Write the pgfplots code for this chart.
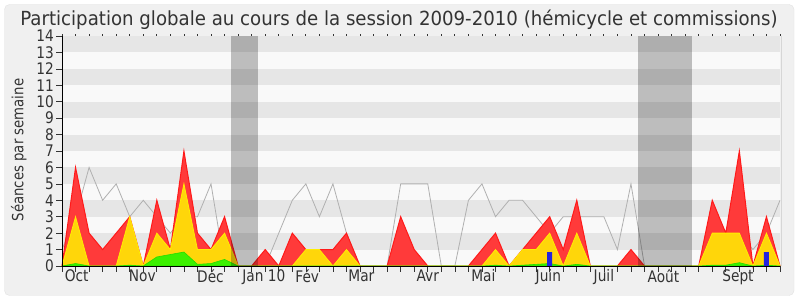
\documentclass[border=0pt]{standalone}
\usepackage{fontspec}
\setmainfont{DejaVu Sans}[FakeStretch=0.86]
\newfontfamily\titlefont{DejaVu Sans}[FakeStretch=0.935]
\usepackage{pgfplots}
\usepackage{pgfplotstable}
\pgfplotsset{compat=1.18}
\definecolor{bg}{HTML}{F0F0F0}
\definecolor{borderc}{HTML}{E2E2E2}
\definecolor{txt}{HTML}{333333}
\definecolor{stripe}{HTML}{E6E6E6}
\definecolor{stripelight}{HTML}{F9F9F9}
\definecolor{grayline}{HTML}{B0B0B0}
\definecolor{redfill}{HTML}{FF3A3A}
\definecolor{rededge}{HTML}{FF1A1A}
\definecolor{yelfill}{HTML}{FFD60A}
\definecolor{yeledge}{HTML}{FFEE00}
\definecolor{grnfill}{HTML}{3CF000}
\definecolor{grnedge}{HTML}{22DD00}
\definecolor{bluebar}{HTML}{2424DD}
\definecolor{rightline}{HTML}{D6D6D6}

\pgfplotstableread{
i  red yel grn  gry
0  0   0   0    1
1  6   3   0.15 3
2  2   0   0    6
3  1   0   0    4
4  2   0   0    5
5  3   3   0.05 3
6  0   0   0    4
7  4   2   0.55 3
8  1   1   0.7  2
9  7   5   0.85 3
10 2   1   0.1  3
11 1   1   0.15 5
12 3   2   0.4  0
13 0   0   0    0
14 0   0   0    0
15 1   0   0    0
16 0   0   0    2
17 2   0   0    4
18 1   1   0    5
19 1   1   0    3
20 1   0   0    5
21 2   1   0    2
22 0   0   0    0
23 0   0   0    0
24 0   0   0    0
25 3   0   0    5
26 1   0   0    5
27 0   0   0    5
28 0   0   0    0
29 0   0   0    0
30 0   0   0    4
31 1   0   0    5
32 2   1   0.05 3
33 0   0   0    4
34 1   1   0.05 4
35 2   1   0.1  3
36 3   2   0.15 2
37 1   0   0    3
38 4   2   0.1  3
39 0   0   0    3
40 0   0   0    3
41 0   0   0    1
42 1   0   0    5
43 0   0   0    0
44 0   0   0    0
45 0   0   0    0
46 0   0   0    0
47 0   0   0    0
48 4   2   0.05 0
49 2   2   0.05 1
50 7   2   0.2  2
51 0   0   0    1
52 3   2   0.05 2
53 0   0   0    4
}\data

\begin{document}
\begin{tikzpicture}
\fill[white] (0bp,0bp) rectangle (800bp,300bp);
\draw[draw=borderc, fill=bg, rounded corners=5bp] (4.5bp,4.5bp) rectangle (794bp,295.5bp);
\node[anchor=base, font=\titlefont\fontsize{19.5}{20}\selectfont, text=txt, inner sep=0pt] at (399bp,274.5bp) {Participation globale au cours de la session 2009-2010 (hémicycle et commissions)};
\node[anchor=base, rotate=90, font=\fontsize{15.5}{16}\selectfont, text=txt, inner sep=0pt] at (23.3bp,150bp) {Séances par semaine};
\draw[rightline, line width=1bp] (781bp,34bp) -- (781bp,264bp);
\begin{axis}[
  at={(62bp,34bp)}, anchor=south west,
  scale only axis, width=718bp, height=230bp,
  xmin=0, xmax=53, ymin=0, ymax=14,
  axis background/.style={fill=stripelight},
  axis x line*=bottom, axis y line*=left,
  axis line style={draw=black, line width=0.8bp},
  axis on top,
  tick align=outside,
  major tick length=5.5bp,
  tick style={draw=txt, line width=0.7bp},
  xtick={0,...,53}, xticklabels={},
  ytick={0,...,14},
  extra x ticks={1.08,5.93,10.96,14.9,18.1,22.1,27,31.1,35.9,40,44.4,49.9},
  extra x tick labels={Oct,Nov,Déc,Jan 10,Fév,Mar,Avr,Mai,Juin,Juil,Août,Sept},
  extra x tick style={major tick length=0pt, tick style={draw=none}},
  /pgf/number format/assume math mode=true,
  ticklabel style={font=\fontsize{16}{17}\selectfont, text=txt},
  yticklabel style={inner sep=0bp, xshift=-2.5bp},
  clip=false,
]
\fill[stripe] (axis cs:0,1) rectangle (axis cs:53,2);
\fill[stripe] (axis cs:0,3) rectangle (axis cs:53,4);
\fill[stripe] (axis cs:0,5) rectangle (axis cs:53,6);
\fill[stripe] (axis cs:0,7) rectangle (axis cs:53,8);
\fill[stripe] (axis cs:0,9) rectangle (axis cs:53,10);
\fill[stripe] (axis cs:0,11) rectangle (axis cs:53,12);
\fill[stripe] (axis cs:0,13) rectangle (axis cs:53,14);
\addplot[draw=grayline, line width=0.8bp, mark=none] table[x=i,y=gry]{\data};
\addplot[fill=redfill, draw=rededge, line width=1bp, mark=none] table[x=i,y=red]{\data} \closedcycle;
\addplot[fill=yelfill, draw=yeledge, line width=0.8bp, mark=none] table[x=i,y=yel]{\data} \closedcycle;
\addplot[fill=grnfill, draw=grnedge, line width=0.6bp, mark=none] table[x=i,y=grn]{\data} \closedcycle;
\addplot[ybar, bar width=5bp, fill=bluebar, draw=none] coordinates {(36,0.85) (52,0.85)};
\fill[black, opacity=0.24] (axis cs:12.5,0) rectangle (axis cs:14.5,14);
\fill[black, opacity=0.24] (axis cs:42.5,0) rectangle (axis cs:46.5,14);
\end{axis}
\begin{axis}[
  at={(62bp,34bp)}, anchor=south west,
  scale only axis, width=718bp, height=230bp,
  xmin=0, xmax=53, ymin=0, ymax=14,
  axis x line*=top, hide y axis,
  axis line style={draw=none},
  xtick={0,...,53}, xticklabels={},
  tick align=outside, major tick length=1.5bp,
  tick style={draw=txt, line width=0.8bp},
]
\end{axis}
\end{tikzpicture}
\end{document}
